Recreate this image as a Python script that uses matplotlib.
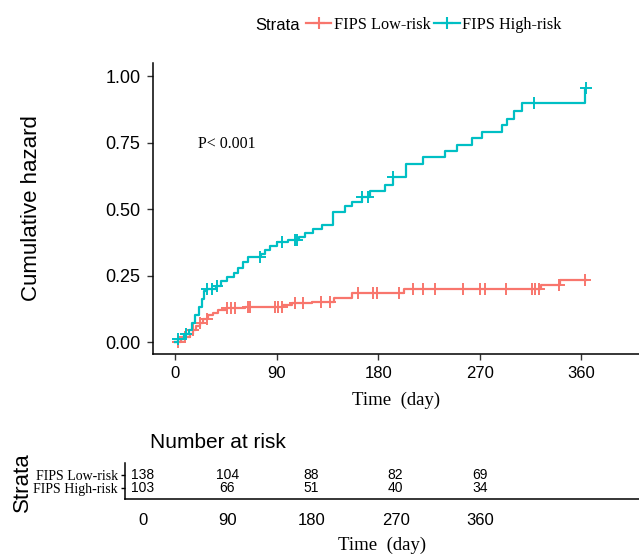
import numpy as np
import matplotlib.pyplot as plt
from matplotlib.lines import Line2D

# cumulative hazard step data (day, hazard after step)
low_t = [0, 5, 9, 13, 16, 19, 22, 25, 29, 34, 38, 45, 62, 96, 104, 121, 141, 157, 203, 324, 341]
low_h = [0, 0.01, 0.02, 0.03, 0.045, 0.06, 0.07, 0.085, 0.10, 0.11, 0.12, 0.128, 0.133,
         0.14, 0.146, 0.15, 0.164, 0.184, 0.20, 0.214, 0.233]
low_cens = [3, 9, 16, 22, 28, 46, 50, 53, 65, 66, 89, 91, 95, 106, 113, 129, 137, 162,
            175, 179, 198, 211, 220, 230, 255, 270, 275, 293, 316, 319, 322, 340, 363]
low_end = 364

high_t = [0, 3, 8, 12, 15, 18, 21, 24, 26, 28, 36, 41, 46, 52, 56, 60, 65, 76, 80, 84, 90,
          100, 110, 115, 122, 130, 140, 151, 157, 166, 173, 186, 193, 205, 220, 239, 250,
          263, 272, 290, 294, 300, 307, 363]
high_h = [0, 0.01, 0.03, 0.045, 0.07, 0.10, 0.13, 0.16, 0.19, 0.20, 0.21, 0.23, 0.245,
          0.26, 0.28, 0.30, 0.32, 0.33, 0.345, 0.36, 0.375, 0.385, 0.395, 0.41, 0.425,
          0.44, 0.49, 0.51, 0.527, 0.545, 0.568, 0.59, 0.62, 0.67, 0.695, 0.72, 0.74,
          0.767, 0.79, 0.815, 0.84, 0.868, 0.898, 0.955]
high_cens = [3, 10, 28, 33, 37, 75, 95, 106, 108, 166, 171, 193, 318, 364]
high_end = 364

strata = ["FIPS Low-risk", "FIPS High-risk"]
risk_times = [0, 90, 180, 270, 360]
risk_low = [138, 104, 88, 82, 69]
risk_high = [103, 66, 51, 40, 34]

red = "#F8766D"
teal = "#00BFC4"
sans = "Liberation Sans"
serif = "Liberation Serif"


def hazard_at(times, haz, t):
    idx = np.searchsorted(times, t, side="right") - 1
    return np.array(haz)[idx]


fig = plt.figure(figsize=(6.39, 5.57), dpi=100)

# main plot
ax = fig.add_axes([153 / 639, 1 - 354 / 557, 486 / 639, 291 / 557])
for t, h, c, end, col in [(low_t, low_h, low_cens, low_end, red),
                          (high_t, high_h, high_cens, high_end, teal)]:
    ax.step(t + [end], h + [h[-1]], where="post", color=col, lw=1.6)
    ax.plot(c, hazard_at(t, h, c), ls="none", marker="+", ms=8, mew=1.4, color=col)

ax.set_xlim(-19.5, 411)
ax.set_ylim(-0.045, 1.049)
ax.set_xticks([0, 90, 180, 270, 360])
ax.set_yticks([0, 0.25, 0.5, 0.75, 1.0])
ax.set_yticklabels(["0.00", "0.25", "0.50", "0.75", "1.00"], family=sans, fontsize=13)
ax.set_xticklabels(["0", "90", "180", "270", "360"], family=sans, fontsize=12)
ax.tick_params(length=4, width=1, color="#333333", pad=5)
for s in ["top", "right"]:
    ax.spines[s].set_visible(False)
for s in ["left", "bottom"]:
    ax.spines[s].set_linewidth(1.1)
ax.set_ylabel("Cumulative hazard", family=sans, fontsize=16)
ax.yaxis.set_label_coords(-0.228, 0.5)
ax.set_xlabel("Time  (day)", family=serif, fontsize=13.5, labelpad=7)
ax.text(20, 0.745, "P< 0.001", family=serif, fontsize=11.5, va="center")

# legend
fig.text(255 / 639, 1 - 25 / 557, "Strata", family=sans, fontsize=12, va="center")
handles = [Line2D([], [], color=red, lw=1.6, marker="+", ms=9, mew=1.5),
           Line2D([], [], color=teal, lw=1.6, marker="+", ms=9, mew=1.5)]
fig.legend(handles, strata, loc="center left", bbox_to_anchor=(306 / 639, 1 - 25 / 557),
           ncol=2, frameon=False, handlelength=1.55, handletextpad=0.15, columnspacing=0.25,
           prop={"family": serif, "size": 11.7}, borderpad=0, borderaxespad=0)

# risk table
fig.text(150 / 639, 1 - 442 / 557, "Number at risk", family=sans, fontsize=15, va="center")
ax2 = fig.add_axes([125 / 639, 1 - 499 / 557, 514 / 639, 36 / 557])
for x, a, b in zip(risk_times, risk_low, risk_high):
    ax2.text(x, 2.1, str(a), ha="center", va="center", family=sans, fontsize=10)
    ax2.text(x, 0.9, str(b), ha="center", va="center", family=sans, fontsize=10)
ax2.set_xlim(-19.2, 530)
ax2.set_ylim(-0.09, 3.18)
ax2.set_yticks([2.1, 0.9])
ax2.set_yticklabels(strata, family=serif, fontsize=10)
ax2.set_xticks(risk_times)
ax2.set_xticklabels([str(v) for v in risk_times], family=sans, fontsize=12)
ax2.tick_params(axis="x", length=0, pad=10)
ax2.tick_params(axis="y", length=3, width=1, pad=2)
for s in ["top", "right"]:
    ax2.spines[s].set_visible(False)
for s in ["left", "bottom"]:
    ax2.spines[s].set_linewidth(1.1)
ax2.set_xlabel("Time  (day)", family=serif, fontsize=13.5, labelpad=6)
fig.text(22 / 639, 1 - 482 / 557, "Strata", family=sans, fontsize=16, rotation=90,
         ha="center", va="center")

fig.savefig("out.png", dpi=100)
